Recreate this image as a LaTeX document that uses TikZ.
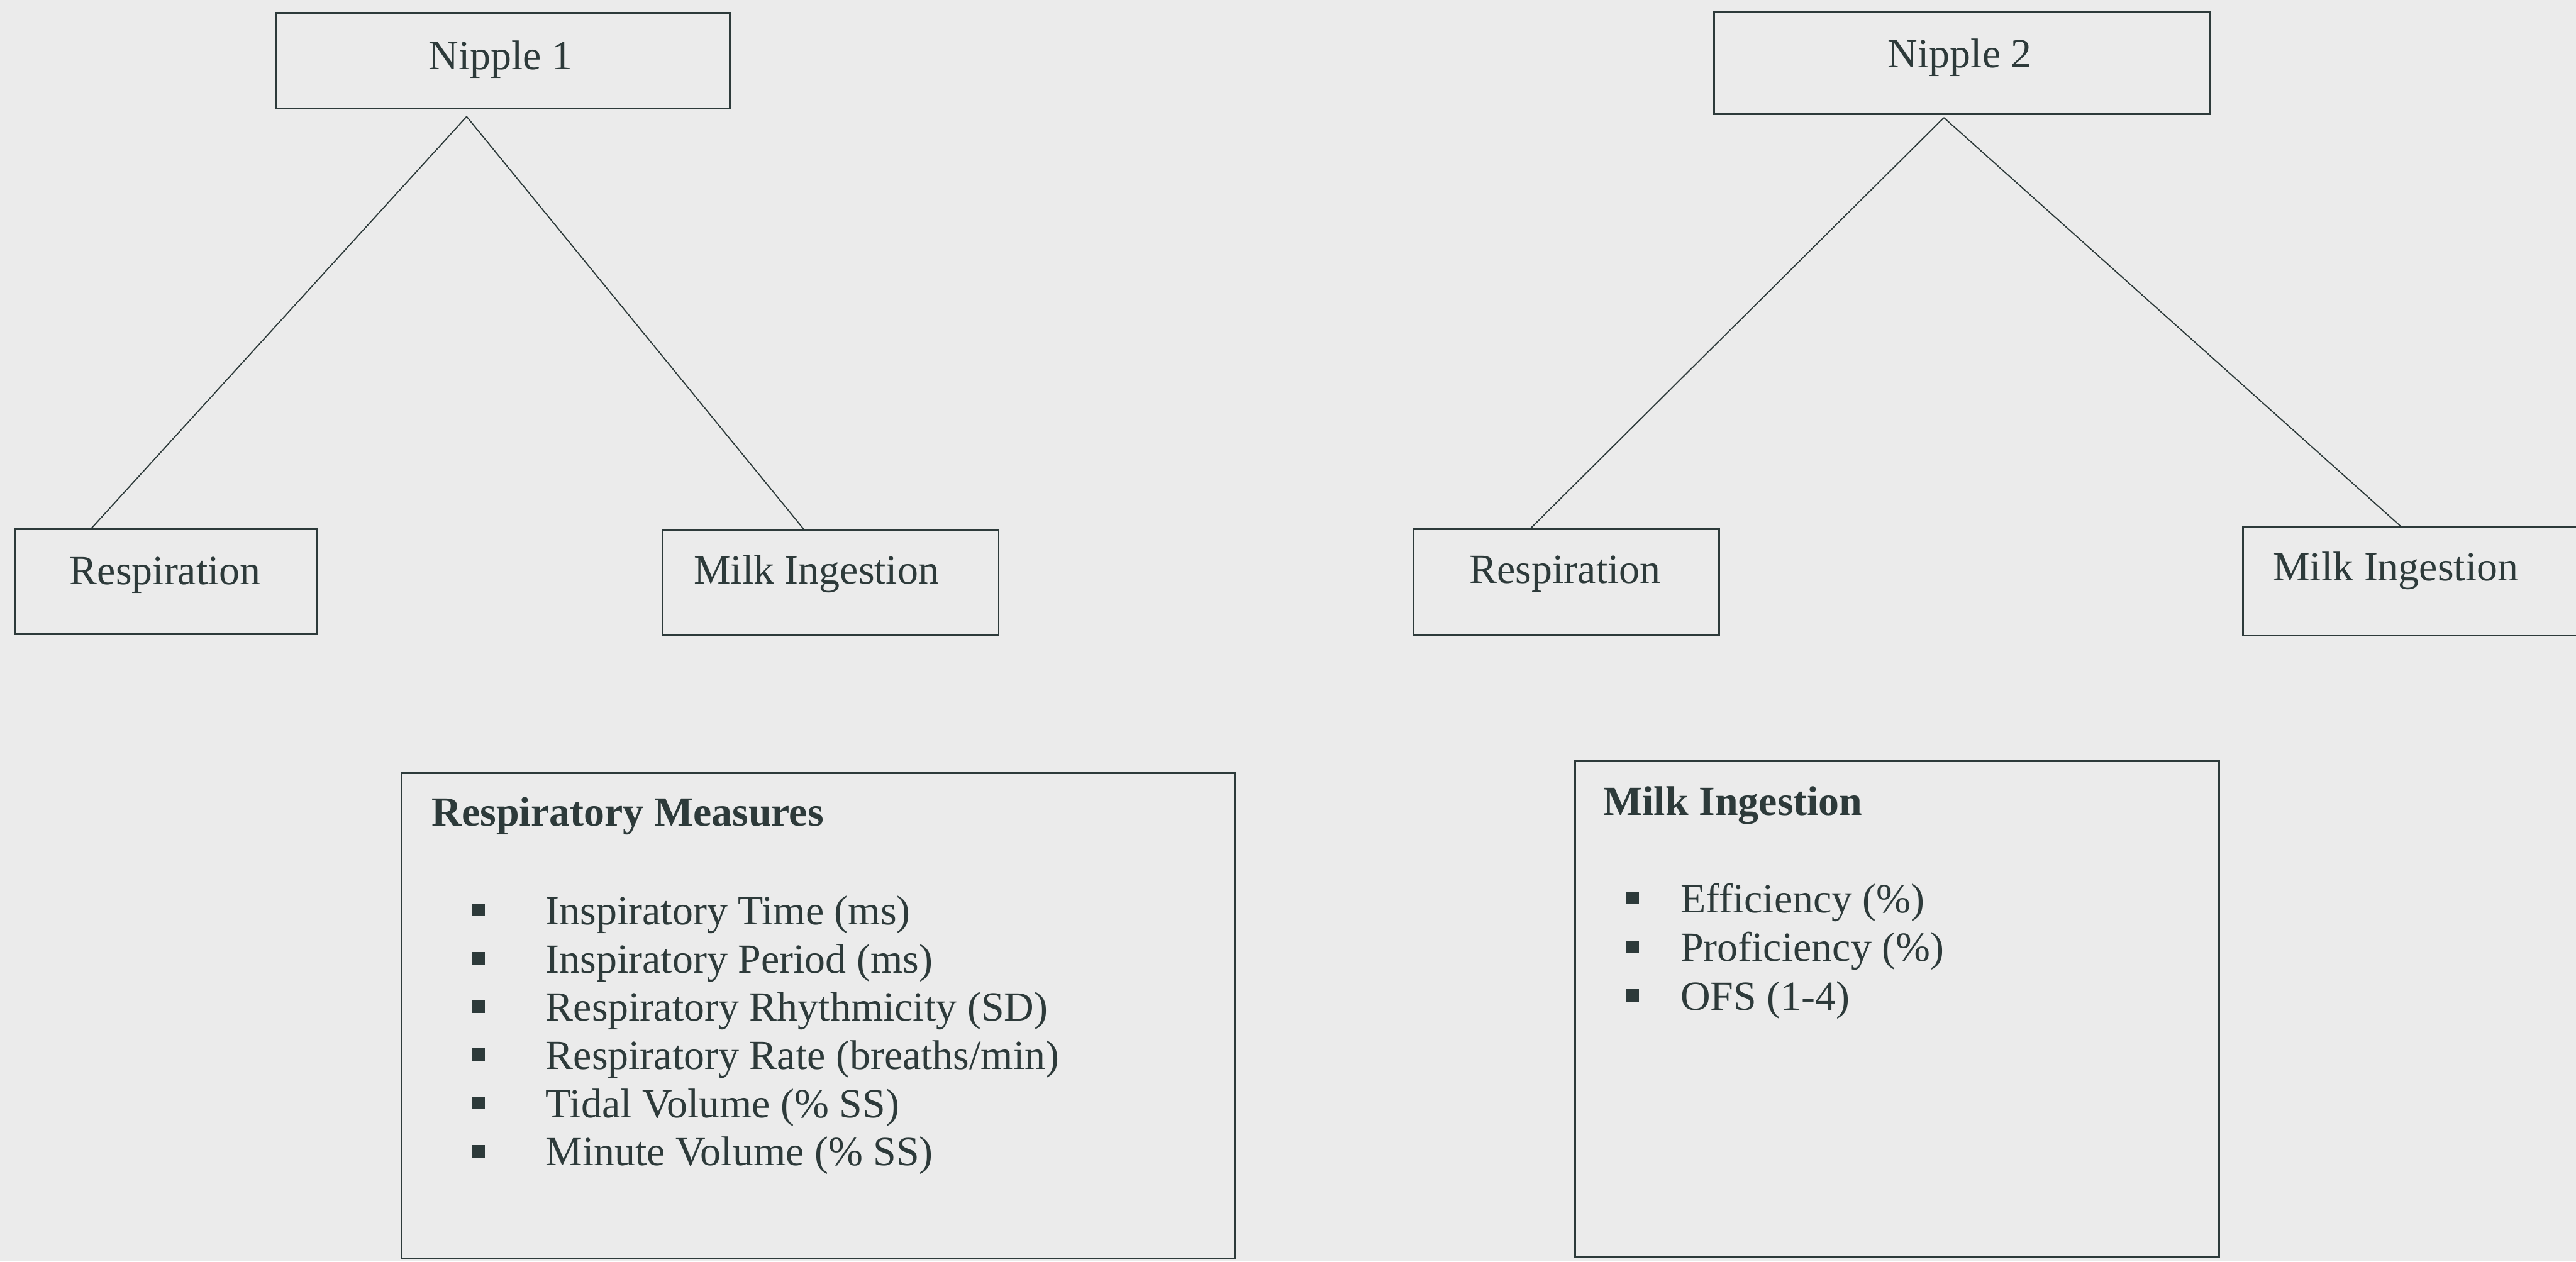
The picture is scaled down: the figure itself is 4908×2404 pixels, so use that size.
\documentclass[tikz,border=0pt]{standalone}
\usepackage{fontspec}
\setmainfont{Liberation Serif}
\definecolor{ink}{RGB}{45,58,58}
\definecolor{paper}{RGB}{235,235,235}
\begin{document}
\begin{tikzpicture}[x=0.25pt,y=-0.25pt,
  box/.style={draw=ink, line width=0.8pt, rectangle, inner sep=0pt, anchor=north west},
  conn/.style={draw=ink, line width=0.55pt},
  txt/.style={text=ink, font=\fontsize{19.75pt}{23pt}\selectfont, inner sep=0pt},
  txtb/.style={txt, font=\fontsize{19.75pt}{23pt}\selectfont\bfseries},
  bul/.style={fill=ink, rectangle, minimum size=6pt, inner sep=0pt}]
\fill[paper] (0,0) rectangle (4908,2404);
\useasboundingbox (0,0) rectangle (4908,2404);
\begin{scope}
\clip (0,0) rectangle (4908,2404);
% top boxes
\node[box, minimum width=216.25pt, minimum height=45.5pt] (n1) at (524,23) {};
\node[box, minimum width=144pt, minimum height=50pt] (r1) at (27,1007) {};
\node[box, minimum width=160pt, minimum height=50pt] (m1) at (1261,1008) {};
\node[box, minimum width=236pt, minimum height=48.5pt] (n2) at (3264,22) {};
\node[box, minimum width=145.75pt, minimum height=50.5pt] (r2) at (2691,1007) {};
\node[box, minimum width=172pt, minimum height=52pt] (m2) at (4272,1002) {};
% big boxes
\node[box, minimum width=396.75pt, minimum height=231.25pt] (rm) at (764,1472) {};
\node[box, minimum width=306.75pt, minimum height=236.25pt] (mi) at (2999,1449) {};
% labels
\node[txt, anchor=base] (n1t) at (954,132) {Nipple 1};
\node[txt, anchor=base west] (r1t) at (132,1114) {Respiration};
\node[txt, anchor=base west] (m1t) at (1321,1112) {Milk Ingestion};
\node[txt, anchor=base] (n2t) at (3734,129) {Nipple 2};
\node[txt, anchor=base west] (r2t) at (2799,1111) {Respiration};
\node[txt, anchor=base west] (m2t) at (4330,1107) {Milk Ingestion};
% connectors
\coordinate (a1) at ([shift={(-69,14)}]n1.south);
\coordinate (a2) at ([shift={(-34,5)}]n2.south);
\draw[conn] (a1) -- ([shift={(147,0)}]r1.north west);
\draw[conn] (a1) -- ([shift={(270,0)}]m1.north west);
\draw[conn] (a2) -- ([shift={(225,0)}]r2.north west);
\draw[conn] (a2) -- ([shift={(301,0)}]m2.north west);
% respiratory measures
\node[txtb, anchor=base west] (rmh) at (822,1574) {Respiratory Measures};
\foreach \t [count=\i from 0] in {Inspiratory Time (ms), Inspiratory Period (ms), Respiratory Rhythmicity (SD), Respiratory Rate (breaths/min), Tidal Volume (\% SS), Minute Volume (\% SS)} {
  \node[bul] (rb\i) at (912,{1734+91.9*\i}) {};
  \node[txt, anchor=base west] (ri\i) at (1039,{1762+91.9*\i}) {\t};
}
% milk ingestion
\node[txtb, anchor=base west] (mih) at (3054,1554) {Milk Ingestion};
\foreach \t [count=\i from 0] in {Efficiency (\%), Proficiency (\%), OFS (1-4)} {
  \node[bul] (mb\i) at (3111,{1711+93*\i}) {};
  \node[txt, anchor=base west] (mt\i) at (3201,{1739+93*\i}) {\t};
}
\end{scope}
\end{tikzpicture}
\end{document}
